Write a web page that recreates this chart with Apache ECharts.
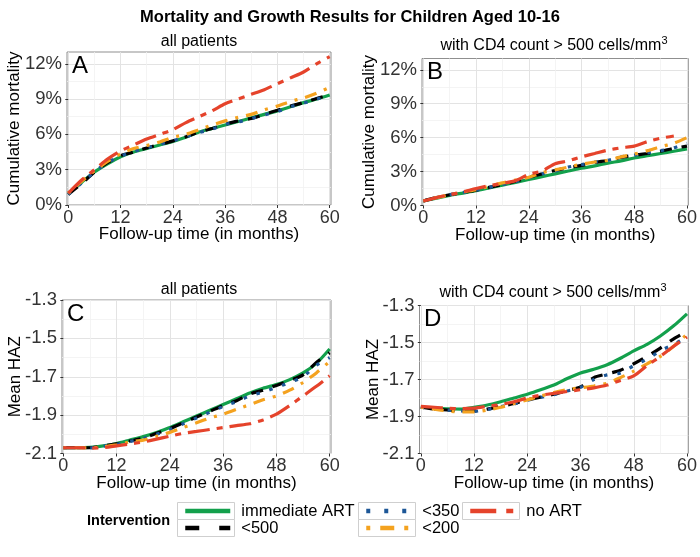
<!DOCTYPE html>
<html><head><meta charset="utf-8">
<script src="https://cdn.jsdelivr.net/npm/echarts@6/dist/echarts.min.js"></script>
<style>html,body{margin:0;padding:0;background:#fff}#c{width:700px;height:557px}</style>
</head><body><div id="c"></div>
<script>
// ---------- data ----------
const months = [0,3,6,9,12,15,18,21,24,27,30,33,36,39,42,45,48,51,54,57,60];
const seriesNames = ['immediate ART','<500','<350','<200','no ART'];
const xTicks = [0,12,24,36,48,60];
const xMinorTicks = [6,18,30,42,54];
const mortTicks = [0,3,6,9,12];
const mortMinorTicks = [1.5,4.5,7.5,10.5];
const hazTicks = [-2.1,-1.9,-1.7,-1.5,-1.3];
const hazMinorTicks = [-2.0,-1.8,-1.6,-1.4];

// Panel A: cumulative mortality (%), all patients
const aImmediate = [1.0,1.9,2.8,3.5,4.1,4.5,4.8,5.1,5.4,5.75,6.2,6.5,6.8,7.1,7.4,7.7,8.0,8.35,8.7,9.0,9.35];
const a500       = [0.9,1.8,2.8,3.6,4.2,4.5,4.85,5.15,5.45,5.8,6.2,6.5,6.85,7.15,7.35,7.7,8.05,8.4,8.7,9.05,9.35];
const a350       = [0.9,1.85,2.8,3.6,4.15,4.55,4.85,5.15,5.45,5.8,6.15,6.45,6.85,7.05,7.35,7.65,7.95,8.35,8.65,9.0,9.3];
const a200       = [1.0,2.0,2.9,3.7,4.35,4.8,5.05,5.35,5.75,6.0,6.4,6.8,7.15,7.45,7.7,8.1,8.4,8.8,9.1,9.5,10.0];
const aNoArt     = [1.0,2.1,3.0,3.9,4.6,5.1,5.6,6.0,6.4,7.0,7.5,8.0,8.6,9.0,9.4,9.8,10.3,10.8,11.3,12.0,12.6];

// Panel B: cumulative mortality (%), CD4 > 500
const bImmediate = [0.4,0.65,0.9,1.1,1.3,1.55,1.8,2.05,2.3,2.55,2.8,3.05,3.3,3.5,3.75,3.95,4.2,4.4,4.6,4.8,5.0];
const b500       = [0.4,0.7,0.95,1.15,1.35,1.6,1.85,2.15,2.5,2.8,3.1,3.35,3.55,3.8,4.0,4.25,4.45,4.6,4.8,5.05,5.25];
const b350       = [0.4,0.7,0.95,1.15,1.35,1.6,1.85,2.1,2.45,2.8,3.05,3.4,3.6,3.85,4.0,4.3,4.45,4.65,4.85,5.1,5.5];
const b200       = [0.4,0.7,0.95,1.2,1.4,1.7,2.0,2.25,2.5,2.9,3.15,3.4,3.65,3.85,4.0,4.3,4.55,4.85,5.2,5.5,6.0];
const bNoArt     = [0.4,0.7,0.95,1.2,1.5,1.75,1.95,2.2,2.75,3.05,3.7,3.95,4.3,4.6,4.9,5.1,5.25,5.65,5.95,6.15,null];

// Panel C: mean HAZ, all patients
const cImmediate = [-2.07,-2.07,-2.068,-2.06,-2.048,-2.03,-2.012,-1.99,-1.965,-1.935,-1.905,-1.875,-1.845,-1.815,-1.785,-1.76,-1.74,-1.715,-1.68,-1.63,-1.555];
const c500       = [-2.07,-2.07,-2.07,-2.06,-2.05,-2.035,-2.02,-1.995,-1.97,-1.94,-1.91,-1.88,-1.85,-1.825,-1.79,-1.77,-1.745,-1.72,-1.69,-1.625,-1.575];
const c350       = [-2.07,-2.07,-2.07,-2.062,-2.052,-2.037,-2.022,-2.0,-1.975,-1.945,-1.915,-1.885,-1.855,-1.83,-1.8,-1.78,-1.755,-1.73,-1.7,-1.64,-1.6];
const c200       = [-2.07,-2.07,-2.07,-2.065,-2.055,-2.04,-2.03,-2.01,-1.99,-1.965,-1.94,-1.915,-1.895,-1.87,-1.845,-1.82,-1.8,-1.77,-1.73,-1.68,-1.62];
const cNoArt     = [-2.07,-2.07,-2.072,-2.07,-2.06,-2.05,-2.04,-2.025,-2.01,-1.995,-1.985,-1.975,-1.965,-1.955,-1.945,-1.925,-1.895,-1.85,-1.8,-1.75,-1.695];

// Panel D: mean HAZ, CD4 > 500
const dImmediate = [-1.85,-1.853,-1.858,-1.86,-1.85,-1.838,-1.82,-1.8,-1.78,-1.755,-1.73,-1.695,-1.665,-1.645,-1.62,-1.585,-1.545,-1.51,-1.465,-1.41,-1.345];
const d500       = [-1.85,-1.86,-1.865,-1.87,-1.87,-1.86,-1.845,-1.83,-1.81,-1.795,-1.78,-1.76,-1.74,-1.69,-1.67,-1.65,-1.615,-1.575,-1.53,-1.48,-1.44];
const d350       = [-1.85,-1.86,-1.865,-1.87,-1.872,-1.862,-1.847,-1.832,-1.812,-1.797,-1.782,-1.762,-1.742,-1.7,-1.675,-1.665,-1.625,-1.59,-1.545,-1.51,-1.47];
const d200       = [-1.85,-1.86,-1.87,-1.875,-1.875,-1.865,-1.85,-1.83,-1.81,-1.79,-1.77,-1.755,-1.745,-1.735,-1.72,-1.69,-1.655,-1.615,-1.575,-1.52,-1.455];
const dNoArt     = [-1.845,-1.85,-1.855,-1.858,-1.855,-1.845,-1.835,-1.82,-1.8,-1.785,-1.775,-1.765,-1.755,-1.745,-1.73,-1.705,-1.68,-1.625,-1.575,-1.52,-1.47];

const panels = [
  [aImmediate,a500,a350,a200,aNoArt],
  [bImmediate,b500,b350,b200,bNoArt],
  [cImmediate,c500,c350,c200,cNoArt],
  [dImmediate,d500,d350,d200,dNoArt]
];

// ---------- styles ----------
const FONT = 'Liberation Sans, Arial, Helvetica, sans-serif';
const colors = ['#13a04c','#000000','#1d5797','#f4a21f','#e5432b'];
const dashes = ['solid',[12,10],[3.5,10],[3,8,12,8],[22,7,6,7]];
const legendDashes = ['solid',[14,20],[4,14],[4,10,14,10],[26,10,7,10]];

const grids = [
  {left:67, top:52, width:264, height:153},
  {left:422, top:58.5, width:268, height:147},
  {left:62, top:300, width:269, height:153.5},
  {left:419.5, top:305.5, width:270.5, height:148}
];
const xMin = -0.3, xMax = 60.3;

const xAxes = [], yAxes = [], series = [];
grids.forEach((g, i) => {
  g.show = true; g.borderColor = '#8f8f8f'; g.borderWidth = 1; g.backgroundColor = '#fff';
  const mort = i < 2;
  xAxes.push({
    type:'value', gridIndex:i, min:xMin, max:xMax,
    name:'Follow-up time (in months)', nameLocation:'middle', nameGap:21, nameMoveOverlap:false,
    nameTextStyle:{fontFamily:FONT, fontSize:17, color:'#000'},
    axisLine:{show:false},
    axisTick:{show:true, length:3, customValues:xTicks, lineStyle:{color:'#333'}},
    axisLabel:{customValues:xTicks, margin:4, fontFamily:FONT, fontSize:18, color:'#333'},
    splitLine:{show:true, lineStyle:{color:'#e3e3e3', width:1}}
  });
  xAxes.push({
    type:'value', gridIndex:i, min:xMin, max:xMax,
    axisLine:{show:false}, axisLabel:{show:false},
    axisTick:{show:false, customValues:xMinorTicks},
    splitLine:{show:true, lineStyle:{color:'#f1f1f1', width:0.8}}
  });
  const yT = mort ? mortTicks : hazTicks;
  const yM = mort ? mortMinorTicks : hazMinorTicks;
  yAxes.push({
    type:'value', gridIndex:i, min: mort ? 0 : -2.1, max: mort ? 13 : -1.3,
    name: mort ? 'Cumulative mortality' : 'Mean HAZ', nameLocation:'middle',
    nameGap: mort ? 44 : 38, nameMoveOverlap:false,
    nameTextStyle:{fontFamily:FONT, fontSize:17, color:'#000'},
    axisLine:{show:false},
    axisTick:{show:true, length:3, customValues:yT, lineStyle:{color:'#333'}},
    axisLabel:{customValues:yT, margin:5, fontFamily:FONT, fontSize:18.5, color:'#333',
      formatter: v => mort ? Math.round(v) + '%' : v.toFixed(1)},
    splitLine:{show:true, lineStyle:{color:'#e3e3e3', width:1}}
  });
  yAxes.push({
    type:'value', gridIndex:i, min: mort ? 0 : -2.1, max: mort ? 13 : -1.3,
    axisLine:{show:false}, axisLabel:{show:false},
    axisTick:{show:false, customValues:yM},
    splitLine:{show:true, lineStyle:{color:'#f1f1f1', width:0.8}}
  });
  panels[i].forEach((vals, k) => {
    series.push({
      type:'line', name:seriesNames[k], xAxisIndex:2*i, yAxisIndex:2*i,
      data: months.map((m, j) => [m, vals[j]]),
      symbol:'none', smooth:0.25, connectNulls:false, silent:true,
      z: 2 + k,
      lineStyle:{color:colors[k], width:3.2, type:dashes[k], cap:'butt'},
      itemStyle:{color:colors[k]}
    });
  });
});

// legend layout
const boxW = 57, boxH = 17;
const legendBoxes = [
  {x:177, y:502.5}, {x:177, y:519.5}, {x:358, y:502.5}, {x:358, y:519.5}, {x:462, y:502.5}
];
const legends = seriesNames.map((nm, k) => ({
  data:[nm], selectedMode:false,
  left: legendBoxes[k].x + 6, top: legendBoxes[k].y, padding:0,
  itemWidth:45, itemHeight:boxH, itemGap:0,
  itemStyle:{opacity:0, borderWidth:0},
  lineStyle:{width:4.5, type:legendDashes[k], cap:'butt', opacity:1},
  textStyle:{fontFamily:FONT, fontSize:16.5, color:'#000', padding:[0,0,0,6]}
}));

const graphics = [];
legendBoxes.forEach(b => graphics.push({
  type:'rect', z:0, shape:{x:b.x+0.5, y:b.y, width:boxW, height:boxH},
  style:{fill:'#fff', stroke:'#cfcfcf', lineWidth:1}
}));
graphics.push({type:'text', x:170, y:521, z:5,
  style:{text:'Intervention', fontFamily:FONT, fontSize:14.5, fontWeight:'bold', fill:'#000', align:'right', verticalAlign:'middle'}});
const subStyle = {fontFamily:FONT, fontSize:16, fill:'#000', align:'center', verticalAlign:'bottom'};
graphics.push({type:'text', x:199, y:50, style:Object.assign({text:'all patients'}, subStyle)});
graphics.push({type:'text', x:199, y:298, style:Object.assign({text:'all patients'}, subStyle)});
const supText = {text:'with CD4 count > 500 cells/mm{sup|3}', rich:{sup:{fontSize:11, fontFamily:FONT, fill:'#000', padding:[0,0,10,0]}}};
graphics.push({type:'text', x:554, y:56, style:Object.assign({}, subStyle, supText)});
graphics.push({type:'text', x:553, y:303, style:Object.assign({}, subStyle, supText)});
[['A',72,54],['B',427,60],['C',67,302],['D',424,307]].forEach(([t,x,y]) => graphics.push({
  type:'text', x, y, z:10, style:{text:t, fontFamily:FONT, fontSize:24, fill:'#000', align:'left', verticalAlign:'top'}
}));

const chart = echarts.init(document.getElementById('c'), null, {renderer:'canvas'});
chart.setOption({
  backgroundColor:'#fff',
  animation:false,
  title:{text:'Mortality and Growth Results for Children Aged 10-16', left:'center', top:4,
    textStyle:{fontFamily:FONT, fontSize:16.5, fontWeight:'bold', color:'#000'}},
  grid:grids, xAxis:xAxes, yAxis:yAxes, series:series,
  legend:legends, graphic:graphics
});
</script></body></html>
